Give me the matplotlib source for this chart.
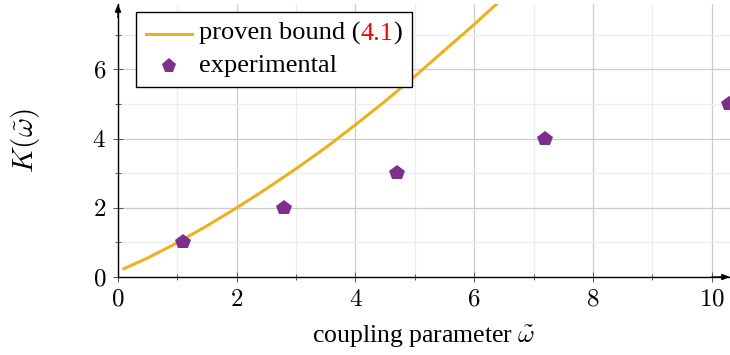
import matplotlib
matplotlib.use("Agg")
import matplotlib.pyplot as plt
from matplotlib.lines import Line2D
from matplotlib.offsetbox import (TextArea, DrawingArea, HPacker, VPacker,
                                  AnchoredOffsetbox)

# proven bound K(w) as tabulated
bound_x = [0.1, 0.5, 1.0, 1.5, 2.0, 2.5, 3.0, 3.5, 4.0, 4.5, 5.0, 5.5, 6.0, 6.5]
bound_y = [0.24, 0.55, 0.99, 1.48, 2.0, 2.55, 3.13, 3.74, 4.40, 5.08, 5.80,
           6.55, 7.30, 8.08]

# experimental measurements
exp_x = [1.1, 2.8, 4.7, 7.2, 10.3]
exp_y = [1, 2, 3, 4, 5]

x_ticks = [0, 2, 4, 6, 8, 10]
x_minor = [1, 3, 5, 7, 9]
y_ticks = [0, 2, 4, 6]
y_minor = [1, 3, 5, 7]

bound_label = ["proven bound (", "4.1", ")"]
exp_label = "experimental"
x_label = r"coupling parameter $\tilde{\omega}$"
y_label = r"$K(\tilde{\omega})$"

ORANGE = "#EDB120"
PURPLE = "#7E2F8E"

plt.rcParams["mathtext.fontset"] = "cm"
plt.rcParams["font.family"] = ["Liberation Serif", "DejaVu Serif"]

W, H = 730, 355
fig = plt.figure(figsize=(W / 100, H / 100), dpi=100)
ax = fig.add_axes([118 / W, 78 / H, 612 / W, 273 / H])

ax.set_xlim(0, 10.31)
ax.set_ylim(0, 7.89)

ax.set_xticks(x_ticks)
ax.set_xticks(x_minor, minor=True)
ax.set_yticks(y_ticks)
ax.set_yticks(y_minor, minor=True)
ax.set_xticklabels([f"${t}$" for t in x_ticks])
ax.set_yticklabels([f"${t}$" for t in y_ticks])

ax.grid(which="major", color="#cdcdcd", lw=0.9)
ax.grid(which="minor", color="#ededed", lw=0.9)
ax.set_axisbelow(True)

ax.tick_params(which="major", direction="inout", length=7.2, width=0.7,
               color="#555555", labelsize=18)
ax.tick_params(which="minor", direction="inout", length=4.3, width=0.7,
               color="#555555")
ax.tick_params(axis="x", which="major", pad=5)
ax.tick_params(axis="y", which="major", pad=5)

for s in ("top", "right"):
    ax.spines[s].set_visible(False)
for s in ("left", "bottom"):
    ax.spines[s].set_linewidth(1.0)

ax.plot(bound_x, bound_y, color=ORANGE, lw=2.2, zorder=3)
ax.plot(exp_x, exp_y, ls="none", marker="p", ms=11.5, color=PURPLE,
        markeredgewidth=0, zorder=4)

# axis arrows
arrow = dict(arrowstyle="-|>,head_length=0.45,head_width=0.18", lw=1.0,
             color="black", shrinkA=0, shrinkB=0)
ax.annotate("", xy=(0, 1.0), xytext=(0, 0.95), xycoords="axes fraction",
            arrowprops=arrow, annotation_clip=False)
ax.annotate("", xy=(1.0, 0), xytext=(0.97, 0), xycoords="axes fraction",
            arrowprops=arrow, annotation_clip=False)

ax.set_xlabel(x_label, fontsize=18.5, labelpad=9)
ax.set_ylabel(y_label, fontsize=21, labelpad=36)

# legend with a coloured equation reference
fs = 19
line_area = DrawingArea(33, 12)
line_area.add_artist(Line2D([0, 33], [6, 6], color=ORANGE, lw=2.2))
mark_area = DrawingArea(33, 12)
mark_area.add_artist(Line2D([16.5], [6], ls="none", marker="p", ms=11,
                            color=PURPLE, markeredgewidth=0))

t1 = HPacker(children=[TextArea(bound_label[0], textprops=dict(fontsize=fs)),
                       TextArea(bound_label[1], textprops=dict(fontsize=fs, color="red")),
                       TextArea(bound_label[2], textprops=dict(fontsize=fs))],
             sep=0, align="baseline")
row1 = HPacker(children=[line_area, t1], sep=5, align="center")
row2 = HPacker(children=[mark_area, TextArea(exp_label, textprops=dict(fontsize=fs))],
               sep=5, align="center")
rows = VPacker(children=[row1, row2], sep=7, align="left")
leg = AnchoredOffsetbox(loc="upper left", child=rows, pad=0.72, borderpad=0,
                        frameon=True, bbox_to_anchor=(136 / W, 1 - 12 / H),
                        bbox_transform=fig.transFigure)
leg.patch.set_boxstyle("square,pad=0")
leg.patch.set_edgecolor("black")
leg.patch.set_linewidth(1.0)
leg.zorder = 6
ax.add_artist(leg)

fig.savefig("out.png", dpi=100)
